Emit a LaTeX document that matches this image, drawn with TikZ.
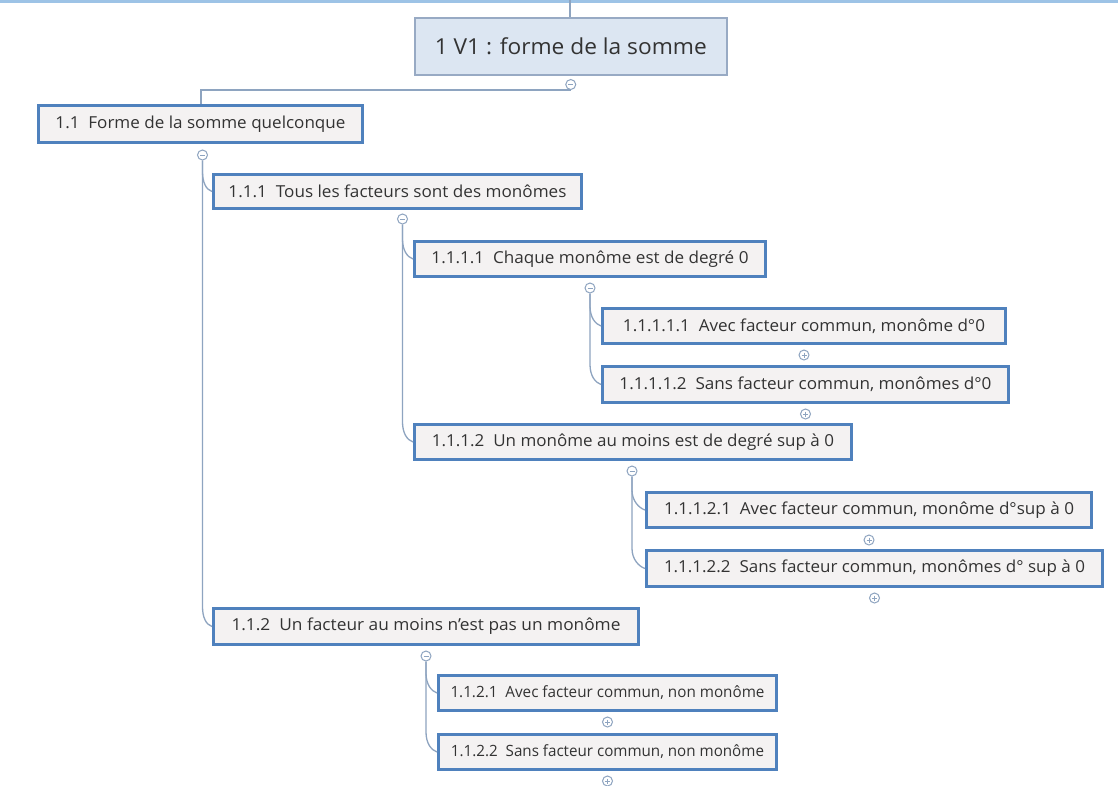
\documentclass[tikz,border=0pt]{standalone}
\usepackage{fontspec}
\setmainfont{Open Sans}
\usetikzlibrary{calc}
\definecolor{stripblue}{HTML}{9DC3E6}
\definecolor{rootfill}{HTML}{DCE6F2}
\definecolor{rootline}{HTML}{98AAC4}
\definecolor{boxfill}{HTML}{F4F2F2}
\definecolor{boxline}{HTML}{4F81BD}
\definecolor{connline}{HTML}{8EA4C0}
\definecolor{txt}{HTML}{333333}
\newcommand{\fitw}[2]{\resizebox{#1}{\height}{#2}}
\newcommand{\branch}[2]{%
  \draw[conn] (#1.south) -- ($(#1 |- #2.west)+(0,-20)$)
    .. controls ($(#1 |- #2.west)+(0,-9)$) and ($(#2.west)+(-6,-2)$) .. (#2.west);}
\begin{document}
\begin{tikzpicture}[x=1pt,y=-1pt,
  rootbox/.style={draw=rootline, line width=1.5pt, fill=rootfill, anchor=north west,
    inner sep=0pt, text=txt, font=\fontsize{22}{26}\selectfont},
  mbox/.style={draw=boxline, line width=3pt, fill=boxfill, anchor=north west,
    inner sep=0pt, text=txt, font=\fontsize{16.5}{19}\selectfont},
  conn/.style={draw=connline, line width=1.3pt},
  tog/.style={circle, draw=connline, line width=1pt, fill=white, minimum size=10pt, inner sep=0pt},
  minus/.style={tog, path picture={\draw[connline, line width=0.9pt] ($(path picture bounding box.center)+(-2.5,0)$) -- ($(path picture bounding box.center)+(2.5,0)$);}},
  plus/.style={tog, path picture={\draw[connline, line width=0.9pt] ($(path picture bounding box.center)+(-2.5,0)$) -- ($(path picture bounding box.center)+(2.5,0)$) ($(path picture bounding box.center)+(0,-2.5)$) -- ($(path picture bounding box.center)+(0,2.5)$);}}
]
\useasboundingbox (0,0) rectangle (1118,785);
\fill[white] (0,0) rectangle (1118,785);
\fill[stripblue] (0,0) rectangle (1118,3);

% nodes
\node[rootbox, minimum width=312pt, minimum height=57pt] (root) at (414,17) {\fitw{272pt}{1 V1 : forme de la somme}};
\node[mbox, minimum width=324pt, minimum height=37pt] (n11) at (37,104) {\fitw{290pt}{1.1\ \ Forme de la somme quelconque}};
\node[mbox, minimum width=368pt, minimum height=34pt] (n111) at (212,173) {\fitw{338pt}{1.1.1\ \ Tous les facteurs sont des monômes}};
\node[mbox, minimum width=351pt, minimum height=35pt] (n1111) at (413,240) {\fitw{317pt}{1.1.1.1\ \ Chaque monôme est de degré 0}};
\node[mbox, minimum width=403pt, minimum height=35pt] (n11111) at (601,307) {\fitw{362pt}{1.1.1.1.1\ \ Avec facteur commun, monôme d°0}};
\node[mbox, minimum width=406pt, minimum height=36pt] (n11112) at (601,365) {\fitw{372pt}{1.1.1.1.2\ \ Sans facteur commun, monômes d°0}};
\node[mbox, minimum width=437pt, minimum height=35pt] (n1112) at (413,423) {\fitw{402pt}{1.1.1.2\ \ Un monôme au moins est de degré sup à 0}};
\node[mbox, minimum width=445pt, minimum height=35pt] (n11121) at (645,491) {\fitw{410pt}{1.1.1.2.1\ \ Avec facteur commun, monôme d°sup à 0}};
\node[mbox, minimum width=456pt, minimum height=36pt] (n11122) at (645,549) {\fitw{421pt}{1.1.1.2.2\ \ Sans facteur commun, monômes d° sup à 0}};
\node[mbox, minimum width=425pt, minimum height=36pt] (n112) at (212,607) {\fitw{389pt}{1.1.2\ \ Un facteur au moins n'est pas un monôme}};
\node[mbox, minimum width=338pt, minimum height=35pt, font=\fontsize{15.5}{18}\selectfont] (n1121) at (437,674) {\fitw{314pt}{1.1.2.1\ \ Avec facteur commun, non monôme}};
\node[mbox, minimum width=338pt, minimum height=35pt, font=\fontsize{15.5}{18}\selectfont] (n1122) at (437,733) {\fitw{313pt}{1.1.2.2\ \ Sans facteur commun, non monôme}};

% top line and root connector
\coordinate (topend) at (570,0);
\draw[conn] (topend) -- (root.north -| topend);
\node[minus] (croot) at ($(root.south)+(0,9)$) {};
\coordinate (elbow) at (201,90);
\draw[conn] (croot.south) |- (elbow) -- (n11.north -| elbow);

% toggles
\node[minus] (c11) at ($(n11.south)+(2,11)$) {};
\node[minus] (c111) at ($(n111.south)+(5,9)$) {};
\node[minus] (c1111) at ($(n1111.south)+(0,10)$) {};
\node[minus] (c1112) at ($(n1112.south)+(-1,10)$) {};
\node[minus] (c112) at ($(n112.south)+(0,10)$) {};
\node[plus] (p11111) at ($(n11111.south)+(0,10)$) {};
\node[plus] (p11112) at ($(n11112.south)+(0,10)$) {};
\node[plus] (p11121) at ($(n11121.south)+(0,11)$) {};
\node[plus] (p11122) at ($(n11122.south)+(0,10)$) {};
\node[plus] (p1121) at ($(n1121.south)+(0,10)$) {};
\node[plus] (p1122) at ($(n1122.south)+(0,10)$) {};

% branches
\branch{c11}{n111}
\branch{c11}{n112}
\branch{c111}{n1111}
\branch{c111}{n1112}
\branch{c1111}{n11111}
\branch{c1111}{n11112}
\branch{c1112}{n11121}
\branch{c1112}{n11122}
\branch{c112}{n1121}
\branch{c112}{n1122}
\end{tikzpicture}
\end{document}
